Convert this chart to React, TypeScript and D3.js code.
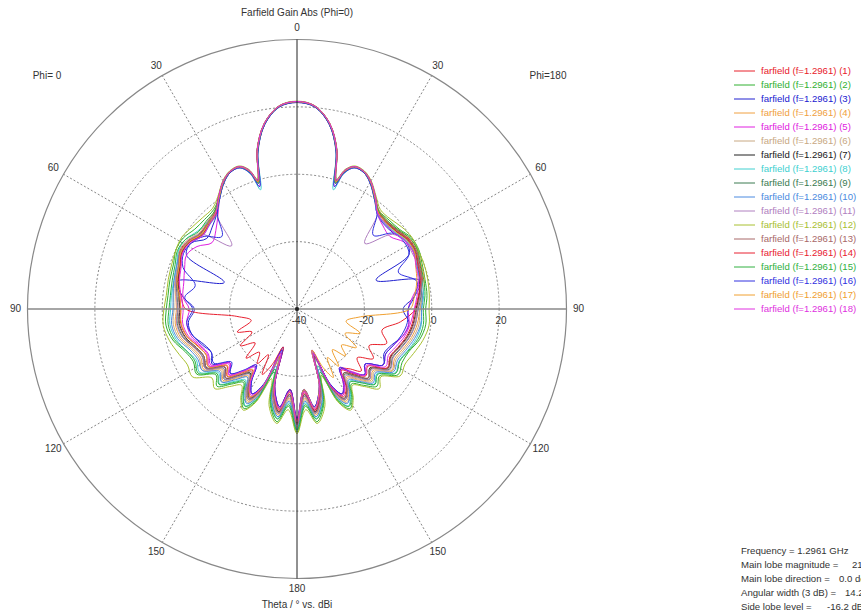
import React, { useRef, useEffect } from "react";
import * as d3 from "d3";

// theta grid (deg) shared by every cut, 0 = top, 180 = bottom
const thetaGrid = [0, 5, 10, 14, 17, 19, 22, 26, 30, 35, 40, 46, 52, 58, 64, 70, 77, 84, 90, 97, 104, 111, 117, 123, 129, 134, 139, 144, 148, 152, 156, 160, 164, 170, 175, 180];

// gain in dBi, left half = Phi 0, right half = Phi 180
const s1Phi0 = [21.6, 20.5, 15.9, 8.8, 0.0, 3.5, 5.6, 5.4, 3.8, 0.6, -2.0, -3.0, -3.5, -1.8, -1.2, -2.8, -3.5, -5.0, -5.5, -5.2, -6.3, -8.8, -9.8, -8.6, -13.2, -11.2, -14.8, -17.5, -13.2, -10.4, -14.2, -26.0, -15.2, -9.4, -15.2, -6.2];
const s1Phi180 = [21.6, 20.5, 15.9, 8.7, -0.2, 3.3, 5.6, 5.4, 3.7, 0.5, -2.2, -2.8, -2.0, -0.8, -0.5, -1.2, -1.8, -3.6, -4.8, -9.0, -14.0, -11.5, -16.0, -13.0, -17.0, -13.5, -16.5, -18.0, -14.0, -11.0, -15.0, -25.0, -15.0, -9.4, -15.0, -6.2];
const s2Phi0 = [21.5, 20.4, 15.8, 8.5, -0.5, 3.2, 5.5, 5.3, 3.6, 0.3, -1.5, -1.8, -1.5, -0.2, 0.0, -1.0, -1.3, -1.5, -1.2, -0.8, -2.0, -4.5, -5.5, -4.5, -9.0, -7.0, -10.5, -13.0, -9.0, -6.5, -10.0, -20.0, -11.0, -6.0, -11.0, -3.5];
const s2Phi180 = [21.5, 20.4, 15.8, 8.5, -0.5, 3.2, 5.5, 5.3, 3.6, 0.3, -2.0, -2.0, -1.5, 0.0, 0.2, -0.5, -1.0, -1.2, -1.8, -1.5, -2.5, -4.5, -5.0, -4.2, -8.5, -7.0, -10.0, -12.5, -9.0, -6.5, -10.0, -19.0, -11.0, -6.0, -11.0, -3.5];
const s3Phi0 = [21.4, 20.3, 15.6, 8.2, -1.0, 3.0, 5.4, 5.2, 3.5, 0.2, -3.0, -5.0, -6.0, -3.0, -3.5, -17.0, -3.5, -6.0, -9.5, -7.5, -8.0, -10.5, -11.5, -10.0, -14.5, -12.5, -15.5, -19.0, -14.5, -11.5, -15.0, -28.0, -16.0, -10.5, -16.0, -7.0];
const s3Phi180 = [21.4, 20.3, 15.6, 8.2, -1.0, 3.0, 5.4, 5.2, 3.5, 0.2, -3.0, -4.0, -3.5, -2.0, -3.0, -15.0, -2.5, -5.0, -8.5, -6.5, -7.5, -10.0, -11.0, -9.5, -14.0, -12.0, -15.0, -18.0, -14.0, -11.5, -15.0, -27.0, -16.0, -10.5, -16.0, -7.0];
const s4Phi0 = [21.5, 20.4, 15.8, 8.5, -0.5, 3.2, 5.5, 5.3, 3.6, 0.3, -2.5, -3.2, -3.8, -2.2, -1.8, -2.5, -3.2, -3.8, -4.2, -3.6, -4.5, -7.0, -8.0, -7.0, -11.5, -9.5, -13.0, -15.5, -11.5, -9.0, -12.5, -23.0, -13.5, -8.0, -13.5, -5.0];
const s4Phi180 = [21.5, 20.4, 15.8, 8.5, -0.5, 3.2, 5.5, 5.3, 3.6, 0.3, -2.0, -2.5, -1.8, -0.5, -0.2, -0.8, -1.2, -2.5, -3.5, -4.0, -5.0, -6.5, -7.5, -6.5, -11.0, -9.5, -12.5, -15.0, -11.0, -9.0, -12.5, -22.0, -13.5, -8.0, -13.5, -5.0];
const s5Phi0 = [21.3, 20.2, 15.5, 8.0, -2.0, 2.6, 5.2, 5.1, 3.3, 0.0, -3.5, -6.5, -8.0, -5.0, -3.5, -4.5, -5.5, -6.0, -8.0, -7.0, -7.5, -9.5, -10.5, -9.5, -14.5, -12.0, -15.5, -19.5, -14.0, -11.5, -15.0, -27.0, -16.0, -10.5, -16.0, -7.5];
const s5Phi180 = [21.3, 20.2, 15.5, 8.0, -2.0, 2.6, 5.2, 5.1, 3.3, 0.0, -3.0, -4.5, -5.0, -2.5, -1.5, -2.0, -2.5, -5.5, -7.0, -6.5, -7.5, -9.5, -10.5, -9.5, -14.0, -12.0, -15.5, -18.5, -14.0, -11.5, -15.0, -27.0, -16.0, -10.5, -16.0, -7.5];
const s6Phi0 = [21.5, 20.4, 15.8, 8.5, -0.5, 3.2, 5.5, 5.3, 3.6, 0.3, -2.2, -2.8, -3.2, -1.5, -1.0, -2.2, -2.8, -3.2, -3.5, -3.0, -4.0, -6.5, -7.5, -6.5, -11.0, -9.0, -12.5, -15.0, -11.0, -8.5, -12.0, -23.0, -13.0, -7.5, -13.0, -4.5];
const s6Phi180 = [21.5, 20.4, 15.8, 8.5, -0.5, 3.2, 5.5, 5.3, 3.6, 0.3, -2.5, -3.0, -2.5, -1.2, -1.0, -1.8, -2.2, -2.8, -3.5, -3.5, -4.5, -6.0, -7.0, -6.2, -10.5, -9.0, -12.0, -14.5, -10.5, -8.5, -12.0, -22.0, -13.0, -7.5, -13.0, -4.5];
const s7Phi0 = [21.6, 20.5, 15.9, 8.8, 0.0, 3.5, 5.6, 5.4, 3.8, 0.6, -2.4, -3.6, -4.2, -2.4, -2.0, -3.0, -3.8, -4.8, -5.2, -4.8, -5.8, -8.0, -9.0, -8.0, -12.5, -10.5, -14.0, -16.5, -12.5, -10.0, -13.5, -25.0, -14.5, -9.0, -14.5, -6.0];
const s7Phi180 = [21.6, 20.5, 15.9, 8.8, 0.0, 3.5, 5.6, 5.4, 3.8, 0.6, -2.4, -3.2, -2.6, -1.4, -1.2, -2.0, -2.6, -3.6, -4.6, -5.2, -6.2, -7.8, -8.8, -7.8, -12.2, -10.5, -14.0, -16.5, -12.0, -10.0, -13.5, -25.0, -14.5, -9.0, -14.5, -6.0];
const s8Phi0 = [21.3, 20.2, 15.5, 7.8, -3.0, 2.4, 5.2, 5.1, 3.3, 0.0, -2.8, -3.0, -2.5, -1.0, -0.8, -2.0, -2.5, -2.5, -2.5, -2.0, -3.0, -5.0, -6.5, -5.5, -10.0, -8.0, -11.5, -14.0, -10.0, -7.5, -11.0, -21.0, -12.0, -7.0, -12.0, -4.0];
const s8Phi180 = [21.3, 20.2, 15.5, 7.8, -3.0, 2.4, 5.2, 5.1, 3.3, 0.0, -2.8, -3.5, -3.0, -1.5, -1.2, -2.0, -2.0, -2.2, -3.0, -2.8, -3.5, -5.0, -6.0, -5.2, -9.5, -8.0, -11.0, -13.5, -10.0, -7.5, -11.0, -22.0, -12.0, -7.0, -12.0, -4.0];
const s9Phi0 = [21.4, 20.3, 15.6, 8.2, -1.0, 3.0, 5.4, 5.2, 3.5, 0.2, -2.6, -3.4, -3.6, -2.0, -1.6, -2.6, -3.2, -4.2, -4.6, -4.2, -5.2, -7.6, -8.6, -7.6, -12.0, -10.0, -13.6, -16.2, -12.0, -9.5, -13.2, -24.0, -14.0, -8.5, -14.0, -5.5];
const s9Phi180 = [21.4, 20.3, 15.6, 8.2, -1.0, 3.0, 5.4, 5.2, 3.5, 0.2, -2.6, -3.0, -2.2, -1.0, -0.8, -1.6, -2.0, -3.0, -4.0, -4.6, -5.6, -7.2, -8.2, -7.2, -11.8, -10.0, -13.4, -16.0, -11.8, -9.5, -13.2, -24.0, -14.0, -8.5, -14.0, -5.5];
const s10Phi0 = [21.5, 20.4, 15.8, 8.5, -0.5, 3.2, 5.5, 5.3, 3.6, 0.3, -3.0, -4.0, -4.5, -2.5, -1.5, -2.0, -2.5, -3.0, -3.2, -2.5, -3.5, -6.0, -7.0, -6.5, -10.5, -8.8, -12.2, -15.0, -10.8, -8.2, -11.8, -22.0, -12.5, -7.5, -12.5, -4.5];
const s10Phi180 = [21.5, 20.4, 15.8, 8.5, -0.5, 3.2, 5.5, 5.3, 3.6, 0.3, -3.0, -3.8, -3.2, -1.8, -1.5, -2.2, -2.5, -2.6, -3.0, -3.0, -4.0, -5.5, -6.5, -5.8, -10.0, -8.5, -11.5, -14.0, -10.5, -8.2, -11.8, -21.0, -12.5, -7.5, -12.5, -4.5];
const s11Phi0 = [21.4, 20.3, 15.6, 8.2, -1.0, 3.0, 5.4, 5.2, 3.5, 0.2, -2.5, -13.0, -4.0, -2.0, -1.5, -2.5, -3.0, -4.0, -4.5, -4.0, -5.0, -7.5, -8.5, -7.5, -12.0, -10.0, -13.5, -16.0, -12.0, -9.5, -13.0, -24.0, -14.0, -8.5, -14.0, -5.5];
const s11Phi180 = [21.4, 20.3, 15.6, 8.2, -1.0, 3.0, 5.4, 5.2, 3.5, 0.2, -2.5, -12.0, -4.0, -2.0, -2.0, -1.8, -2.2, -3.2, -4.2, -4.5, -5.5, -7.0, -8.0, -7.0, -11.5, -10.0, -13.0, -15.5, -11.5, -9.5, -13.0, -24.0, -14.0, -8.5, -14.0, -5.5];
const s12Phi0 = [21.7, 20.6, 16.0, 9.0, 0.5, 3.8, 5.8, 5.6, 4.0, 0.9, -1.0, -1.0, -0.5, 0.3, 0.0, -0.5, -0.8, -1.0, -0.5, 0.0, -1.0, -2.5, -3.5, -3.0, -7.5, -6.0, -9.5, -12.0, -8.5, -6.0, -9.5, -18.0, -10.0, -5.5, -10.0, -3.0];
const s12Phi180 = [21.7, 20.6, 16.0, 9.0, 0.5, 3.8, 5.8, 5.6, 4.0, 0.9, -1.5, -1.5, -0.5, 0.2, 0.0, 0.0, -0.2, -0.5, -0.8, -0.5, -1.5, -3.0, -4.0, -3.5, -8.0, -6.0, -9.5, -12.0, -8.5, -6.0, -9.5, -19.0, -10.0, -5.5, -10.0, -3.0];
const s13Phi0 = [21.6, 20.5, 15.9, 8.8, 0.0, 3.5, 5.6, 5.4, 3.8, 0.6, -2.2, -3.2, -3.8, -2.0, -1.4, -2.6, -3.4, -4.6, -5.0, -4.6, -5.6, -7.8, -9.0, -7.8, -12.6, -10.6, -14.2, -17.0, -12.6, -9.8, -13.8, -25.0, -14.6, -8.8, -14.6, -5.8];
const s13Phi180 = [21.6, 20.5, 15.9, 8.8, 0.0, 3.5, 5.6, 5.4, 3.8, 0.6, -2.2, -2.8, -2.2, -1.0, -0.6, -1.4, -2.0, -3.4, -4.4, -5.0, -6.0, -7.6, -8.6, -7.6, -12.0, -10.6, -13.8, -16.4, -12.0, -9.8, -13.8, -25.0, -14.6, -8.8, -14.6, -5.8];
const s14Phi0 = [21.5, 20.4, 15.8, 8.5, -0.5, 3.2, 5.5, 5.3, 3.6, 0.3, -2.8, -3.8, -4.2, -2.5, -2.0, -3.2, -4.0, -5.5, -7.0, -22.0, -26.0, -21.0, -25.0, -20.0, -24.0, -19.0, -23.0, -20.0, -24.0, -18.0, -22.0, -28.0, -16.0, -10.0, -16.0, -7.0];
const s14Phi180 = [21.5, 20.4, 15.8, 8.5, -0.5, 3.2, 5.5, 5.3, 3.6, 0.3, -2.5, -3.0, -2.5, -1.2, -1.0, -1.8, -2.4, -3.8, -5.0, -5.5, -6.5, -8.0, -9.0, -8.0, -13.0, -11.5, -14.5, -17.5, -12.5, -10.5, -14.5, -26.0, -15.5, -9.5, -15.5, -7.0];
const s15Phi0 = [21.4, 20.3, 15.6, 8.2, -1.0, 3.0, 5.4, 5.2, 3.5, 0.2, -2.0, -2.5, -2.8, -1.0, -0.5, -1.5, -2.0, -2.2, -2.0, -1.5, -2.5, -5.0, -6.0, -5.0, -9.5, -7.8, -11.0, -13.5, -9.8, -7.2, -10.8, -21.0, -11.5, -6.8, -11.5, -4.0];
const s15Phi180 = [21.4, 20.3, 15.6, 8.2, -1.0, 3.0, 5.4, 5.2, 3.5, 0.2, -2.2, -2.5, -1.8, -0.4, -0.2, -1.0, -1.4, -1.8, -2.5, -2.2, -3.0, -4.8, -5.8, -5.0, -9.2, -7.8, -11.0, -13.2, -9.5, -7.2, -10.8, -20.0, -11.5, -6.8, -11.5, -4.0];
const s16Phi0 = [21.3, 20.2, 15.5, 8.0, -2.0, 2.6, 5.2, 5.1, 3.3, 0.0, -3.2, -9.0, -5.0, -3.0, -2.5, -4.0, -9.0, -6.5, -9.0, -7.0, -8.0, -10.0, -11.5, -10.5, -15.0, -12.5, -16.0, -19.5, -14.5, -11.5, -15.5, -27.0, -16.0, -10.5, -16.0, -7.5];
const s16Phi180 = [21.3, 20.2, 15.5, 8.0, -2.0, 2.6, 5.2, 5.1, 3.3, 0.0, -3.0, -8.5, -3.5, -2.5, -3.0, -8.0, -3.5, -5.0, -7.0, -7.0, -8.0, -9.5, -10.5, -9.5, -14.0, -12.0, -15.0, -18.5, -13.5, -11.5, -15.5, -26.0, -16.0, -10.5, -16.0, -7.5];
const s17Phi0 = [21.5, 20.4, 15.8, 8.5, -0.5, 3.2, 5.5, 5.3, 3.6, 0.3, -2.5, -3.5, -4.0, -2.2, -1.6, -2.8, -3.4, -5.0, -5.5, -5.4, -6.4, -8.6, -9.8, -8.6, -13.4, -11.4, -15.0, -17.8, -13.4, -10.6, -14.6, -25.0, -15.2, -9.6, -15.2, -6.5];
const s17Phi180 = [21.5, 20.4, 15.8, 8.5, -0.5, 3.2, 5.5, 5.3, 3.6, 0.3, -2.5, -3.2, -2.8, -1.5, -1.2, -2.5, -3.5, -5.0, -6.5, -21.0, -25.0, -20.0, -24.0, -19.0, -23.0, -20.0, -24.0, -19.0, -23.0, -17.0, -21.0, -27.0, -16.0, -10.0, -16.0, -6.5];
const s18Phi0 = [21.6, 20.5, 15.9, 8.8, 0.0, 3.5, 5.6, 5.4, 3.8, 0.6, -2.6, -3.8, -4.6, -2.8, -2.2, -3.4, -4.2, -5.4, -6.2, -5.8, -6.8, -9.2, -10.2, -9.0, -14.0, -11.8, -15.4, -18.6, -13.6, -11.0, -14.6, -26.0, -15.4, -9.8, -15.4, -6.6];
const s18Phi180 = [21.6, 20.5, 15.9, 8.8, 0.0, 3.5, 5.6, 5.4, 3.8, 0.6, -2.8, -3.6, -3.4, -2.0, -1.6, -2.4, -3.0, -4.2, -5.2, -6.0, -7.0, -8.6, -9.6, -8.6, -13.4, -11.8, -15.0, -17.8, -13.2, -11.0, -14.6, -26.0, -15.4, -9.8, -15.4, -6.6];

const seriesColors = ["#e8202a", "#30b030", "#2020d0", "#f0a040", "#e020e0", "#c8a882", "#202020", "#40d0d0", "#3a7a50", "#4a8ae0", "#b080c0", "#a8c030", "#a86868", "#e82030", "#30b040", "#3030e0", "#f0a030", "#e030e0"];
const seriesLabels = d3.range(1, 19).map((i) => `farfield (f=1.2961) (${i})`);

const radialTicks = [-40, -20, 0, 20];
const thetaTicks = [0, 30, 60, 90, 120, 150, 180];
const infoLabels = ["Frequency = 1.2961 GHz", "Main lobe magnitude =", "Main lobe direction =", "Angular width (3 dB) =", "Side lobe level ="];
const infoValues = ["", "21.5 dBi", "0.0 deg.", "14.2 deg.", "-16.2 dB"];

const phi0Cuts = [s1Phi0, s2Phi0, s3Phi0, s4Phi0, s5Phi0, s6Phi0, s7Phi0, s8Phi0, s9Phi0, s10Phi0, s11Phi0, s12Phi0, s13Phi0, s14Phi0, s15Phi0, s16Phi0, s17Phi0, s18Phi0];
const phi180Cuts = [s1Phi180, s2Phi180, s3Phi180, s4Phi180, s5Phi180, s6Phi180, s7Phi180, s8Phi180, s9Phi180, s10Phi180, s11Phi180, s12Phi180, s13Phi180, s14Phi180, s15Phi180, s16Phi180, s17Phi180, s18Phi180];

const W = 861;
const H = 613;
const font = "'Liberation Sans', Arial, sans-serif";

const FarfieldPolar = () => {
  const svgRef = useRef(null);

  useEffect(() => {
    const svg = d3.select(svgRef.current);
    svg.selectAll("*").remove();

    const cx = 297;
    const cy = 309;
    const R = 269.5;
    const rScale = d3.scaleLinear().domain([-40, 40]).range([0, R]);
    const rad = (deg) => (deg * Math.PI) / 180;

    const g = svg.append("g").attr("transform", `translate(${cx},${cy})`);

    // title
    svg
      .append("text")
      .attr("x", cx)
      .attr("y", 13)
      .attr("text-anchor", "middle")
      .attr("dominant-baseline", "middle")
      .attr("font-size", 10)
      .attr("fill", "#333")
      .text("Farfield Gain Abs (Phi=0)");

    // dashed dB rings
    g.selectAll("circle.ring")
      .data(radialTicks.slice(1))
      .enter()
      .append("circle")
      .attr("class", "ring")
      .attr("r", (d) => rScale(d))
      .attr("fill", "none")
      .attr("stroke", "#777")
      .attr("stroke-width", 0.9)
      .attr("stroke-dasharray", "2,2");

    // dashed spokes
    const spokes = [30, 60, 120, 150, 210, 240, 300, 330];
    g.selectAll("line.spoke")
      .data(spokes)
      .enter()
      .append("line")
      .attr("x1", 0)
      .attr("y1", 0)
      .attr("x2", (d) => R * Math.sin(rad(d)))
      .attr("y2", (d) => -R * Math.cos(rad(d)))
      .attr("stroke", "#777")
      .attr("stroke-width", 0.9)
      .attr("stroke-dasharray", "2,2");

    // outer circle
    g.append("circle").attr("r", R).attr("fill", "none").attr("stroke", "#888").attr("stroke-width", 1.2);

    // curves
    const line = d3
      .lineRadial()
      .angle((d) => rad(d[0]))
      .radius((d) => rScale(Math.max(-40, d[1])))
      .curve(d3.curveCatmullRomClosed.alpha(0.5));

    phi180Cuts.forEach((right, i) => {
      const left = phi0Cuts[i];
      const pts = thetaGrid.map((t, k) => [t, right[k]]);
      for (let k = thetaGrid.length - 2; k >= 1; k--) pts.push([-thetaGrid[k], left[k]]);
      g.append("path")
        .attr("d", line(pts))
        .attr("fill", "none")
        .attr("stroke", seriesColors[i])
        .attr("stroke-width", 1);
    });

    // axes
    g.append("line").attr("x1", -R).attr("x2", R).attr("y1", 0).attr("y2", 0).attr("stroke", "#888").attr("stroke-width", 1.3);
    g.append("line").attr("x1", 0).attr("x2", 0).attr("y1", -R).attr("y2", R).attr("stroke", "#222").attr("stroke-width", 1);
    g.append("circle").attr("r", 2).attr("fill", "#222");

    // radial labels
    g.selectAll("text.rt")
      .data(radialTicks)
      .enter()
      .append("text")
      .attr("x", (d) => rScale(d) + 2)
      .attr("y", 12)
      .attr("text-anchor", "middle")
      .attr("dominant-baseline", "middle")
      .attr("font-size", 10)
      .attr("fill", "#333")
      .text((d) => d);

    // theta labels on both sides
    const thetaPos = [];
    thetaTicks.forEach((t) => {
      thetaPos.push([t, t]);
      if (t !== 0 && t !== 180) thetaPos.push([-t, t]);
    });
    g.selectAll("text.tt")
      .data(thetaPos)
      .enter()
      .append("text")
      .attr("x", (d) => (R + 12) * Math.sin(rad(d[0])))
      .attr("y", (d) => -(R + 11) * Math.cos(rad(d[0])))
      .attr("text-anchor", "middle")
      .attr("dominant-baseline", "middle")
      .attr("font-size", 10)
      .attr("fill", "#333")
      .text((d) => d[1]);

    svg.append("text").attr("x", 47).attr("y", 76).attr("text-anchor", "middle").attr("dominant-baseline", "middle").attr("font-size", 10).attr("fill", "#333").text("Phi= 0");
    svg.append("text").attr("x", 548).attr("y", 76).attr("text-anchor", "middle").attr("dominant-baseline", "middle").attr("font-size", 10).attr("fill", "#333").text("Phi=180");

    svg
      .append("text")
      .attr("x", cx)
      .attr("y", 605)
      .attr("text-anchor", "middle")
      .attr("dominant-baseline", "middle")
      .attr("font-size", 10)
      .attr("fill", "#333")
      .text("Theta / \u00b0 vs. dBi");

    // legend
    const legend = svg
      .append("g")
      .selectAll("g")
      .data(seriesLabels)
      .enter()
      .append("g")
      .attr("transform", (d, i) => `translate(734, ${71 + i * 14})`);
    legend
      .append("line")
      .attr("x1", 0)
      .attr("x2", 21)
      .attr("stroke", (d, i) => seriesColors[i])
      .attr("stroke-width", 1);
    legend
      .append("text")
      .attr("x", 27)
      .attr("dominant-baseline", "middle")
      .attr("font-size", 9.6)
      .attr("fill", (d, i) => seriesColors[i])
      .text((d) => d);

    // result summary (cut at the right edge, as in the original)
    const valueX = [0, 852, 839, 845, 827];
    infoLabels.forEach((t, i) => {
      svg.append("text").attr("x", 741).attr("y", 551 + i * 14).attr("dominant-baseline", "middle").attr("font-size", 9.6).attr("fill", "#333").text(t);
      if (infoValues[i])
        svg.append("text").attr("x", valueX[i]).attr("y", 551 + i * 14).attr("dominant-baseline", "middle").attr("font-size", 9.6).attr("fill", "#333").text(infoValues[i]);
    });
  });

  return (
    <svg
      ref={svgRef}
      width={W}
      height={H}
      style={{ position: "absolute", left: 0, top: 0, background: "#fff", fontFamily: font }}
    ></svg>
  );
};

export default function App() {
  return <FarfieldPolar />;
}
